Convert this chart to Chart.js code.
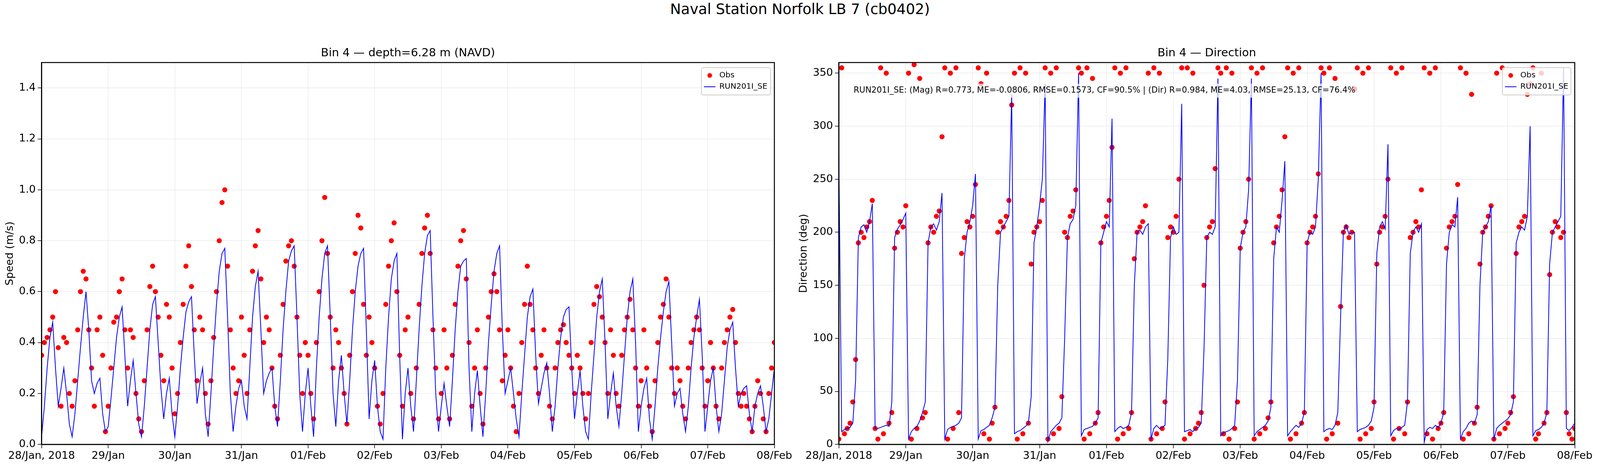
<!DOCTYPE html>
<html><head><meta charset="utf-8">
<script src="https://cdn.jsdelivr.net/npm/chart.js@4.4.0/dist/chart.umd.min.js"></script>
<style>
body{margin:0;background:#fff;height:1200px;position:relative;overflow:hidden;font-family:"DejaVu Sans",sans-serif}
canvas{position:absolute;top:0}
#t{position:absolute;top:2px;left:0;width:100%;text-align:center;font-size:37px;color:#000}
</style></head><body>
<div id="t">Naval Station Norfolk LB 7 (cb0402)</div>
<canvas id="c1"></canvas>
<canvas id="c2"></canvas>
<script>
// hours since 28 Jan 2018 00:00
const dayLabels = ["28/Jan, 2018","29/Jan","30/Jan","31/Jan","01/Feb","02/Feb","03/Feb","04/Feb","05/Feb","06/Feb","07/Feb","08/Feb"];
const speedTicks = [0,0.2,0.4,0.6,0.8,1.0,1.2,1.4];
const dirTicks = [0,50,100,150,200,250,300,350];
const speedModel = [
0.03,0.15,0.3,0.42,0.48,0.3,0.15,0.22,0.3,0.2,0.08,0.03,
0.12,0.25,0.38,0.5,0.6,0.45,0.25,0.2,0.24,0.26,0.12,0.05,
0.07,0.18,0.3,0.42,0.5,0.54,0.35,0.15,0.25,0.33,0.2,0.08,
0.03,0.15,0.3,0.45,0.55,0.58,0.4,0.22,0.1,0.2,0.26,0.12,
0.03,0.15,0.3,0.42,0.52,0.56,0.58,0.35,0.16,0.24,0.3,0.12,
0.03,0.2,0.38,0.55,0.68,0.75,0.77,0.5,0.2,0.05,0.15,0.22,
0.25,0.15,0.1,0.3,0.5,0.62,0.68,0.45,0.2,0.25,0.28,0.3,
0.15,0.07,0.25,0.45,0.6,0.72,0.76,0.78,0.5,0.2,0.05,0.2,
0.3,0.15,0.03,0.3,0.5,0.65,0.75,0.78,0.5,0.2,0.07,0.25,
0.35,0.2,0.08,0.25,0.45,0.6,0.7,0.75,0.77,0.45,0.1,0.25,
0.33,0.15,0.05,0.02,0.3,0.5,0.65,0.72,0.75,0.35,0.02,0.2,
0.3,0.15,0.05,0.25,0.45,0.62,0.75,0.82,0.84,0.5,0.2,0.05,
0.15,0.24,0.15,0.07,0.25,0.45,0.6,0.7,0.72,0.73,0.3,0.05,
0.2,0.29,0.15,0.03,0.2,0.4,0.55,0.68,0.75,0.78,0.45,0.2,
0.25,0.3,0.2,0.1,0.03,0.2,0.35,0.5,0.58,0.61,0.35,0.16,
0.22,0.28,0.32,0.2,0.05,0.15,0.3,0.42,0.5,0.53,0.54,0.3,
0.1,0.2,0.29,0.15,0.05,0.02,0.2,0.35,0.5,0.6,0.65,0.4,
0.1,0.2,0.28,0.15,0.07,0.2,0.35,0.5,0.6,0.65,0.4,0.05,
0.15,0.22,0.26,0.1,0.02,0.15,0.3,0.42,0.52,0.6,0.64,0.4,
0.15,0.2,0.22,0.12,0.05,0.15,0.3,0.42,0.5,0.57,0.35,0.05,
0.15,0.25,0.3,0.15,0.05,0.12,0.25,0.38,0.45,0.48,0.3,0.15,
0.2,0.22,0.23,0.12,0.05,0.15,0.2,0.23,0.15,0.05,0.1,0.2,0.3];
const speedObs = [
0.35,0.4,0.42,0.45,0.5,0.6,0.38,0.15,0.42,0.4,0.2,0.15,
0.25,0.45,0.6,0.68,0.65,0.45,0.3,0.15,0.45,0.5,0.35,0.05,
0.15,0.3,0.48,0.5,0.6,0.65,0.45,0.3,0.45,0.42,0.2,0.1,
0.05,0.25,0.45,0.62,0.7,0.6,0.5,0.35,0.25,0.55,0.5,0.3,
0.12,0.2,0.4,0.55,0.7,0.78,0.62,0.45,0.25,0.5,0.45,0.2,
0.08,0.25,0.42,0.6,0.8,0.95,1.0,0.7,0.45,0.3,0.2,0.25,
0.5,0.35,0.2,0.45,0.68,0.78,0.84,0.65,0.4,0.5,0.45,0.3,
0.15,0.1,0.35,0.55,0.72,0.78,0.8,0.7,0.5,0.35,0.2,0.4,
0.35,0.2,0.1,0.4,0.6,0.8,0.97,0.75,0.5,0.3,0.45,0.4,
0.3,0.2,0.08,0.35,0.6,0.75,0.9,0.85,0.55,0.35,0.5,0.4,
0.3,0.15,0.08,0.2,0.55,0.7,0.8,0.87,0.6,0.35,0.15,0.45,
0.5,0.2,0.1,0.3,0.55,0.75,0.85,0.9,0.75,0.45,0.3,0.1,
0.2,0.45,0.3,0.1,0.35,0.55,0.7,0.8,0.84,0.65,0.4,0.15,
0.3,0.45,0.2,0.08,0.3,0.5,0.6,0.67,0.6,0.45,0.25,0.35,
0.45,0.3,0.15,0.05,0.2,0.4,0.55,0.7,0.55,0.45,0.3,0.2,
0.35,0.45,0.3,0.15,0.1,0.3,0.4,0.45,0.47,0.4,0.35,0.3,
0.2,0.35,0.3,0.2,0.1,0.2,0.4,0.55,0.62,0.58,0.5,0.4,
0.2,0.45,0.35,0.2,0.15,0.35,0.45,0.5,0.57,0.45,0.3,0.15,
0.25,0.45,0.3,0.15,0.05,0.25,0.4,0.5,0.55,0.65,0.5,0.3,
0.2,0.3,0.25,0.15,0.1,0.3,0.4,0.45,0.5,0.45,0.3,0.15,
0.25,0.4,0.3,0.15,0.1,0.3,0.4,0.45,0.5,0.53,0.4,0.2,
0.15,0.2,0.15,0.1,0.05,0.15,0.25,0.2,0.1,0.05,0.2,0.3,0.4];
const dirModel = [
270,12,14,15,16,20,60,195,205,207,200,210,227,
15,15,16,17,18,17,40,195,203,207,212,218,
5,12,15,17,22,30,40,190,205,208,202,210,237,
5,14,16,17,18,20,25,175,200,210,225,255,
5,13,14,16,18,25,35,150,200,205,210,215,330,
10,12,13,15,17,20,45,190,205,225,250,340,
3,12,15,18,20,25,100,195,208,212,225,350,
8,14,15,16,17,20,25,190,200,210,205,307,
12,15,17,15,16,18,30,150,200,202,198,205,208,
5,15,18,15,16,18,80,195,205,198,200,321,
12,13,14,12,15,16,20,90,195,200,198,205,345,
8,11,12,13,15,18,60,185,200,205,240,345,
8,12,14,16,18,22,35,175,205,200,230,267,
8,12,15,18,16,20,30,190,200,198,205,250,350,
12,14,15,14,18,30,120,200,207,198,200,200,
12,14,15,16,18,22,35,180,205,210,203,283,
8,13,15,14,16,18,40,180,200,205,200,208,
2,14,16,15,18,16,20,30,170,200,207,205,233,
5,12,15,20,22,20,28,150,200,205,210,225,
5,15,18,20,22,24,28,40,190,200,205,202,215,300,
8,13,14,16,20,30,170,200,205,210,215,355,
15,13,16,20];
const dirObs = [
5,355,10,15,20,40,80,190,200,195,205,210,230,
15,5,355,10,350,20,30,185,200,210,205,225,
350,5,358,15,345,25,30,190,205,200,215,220,290,
355,5,350,15,355,30,180,195,210,205,215,245,
355,340,10,350,5,20,35,200,210,205,215,230,320,
350,5,355,10,350,20,170,200,205,210,230,355,
5,350,10,355,15,45,200,195,215,220,240,355,
350,5,355,10,345,20,30,190,205,215,230,280,
355,5,350,10,355,15,30,175,200,205,210,225,350,
5,355,10,350,15,40,195,205,200,215,250,355,
5,355,10,350,15,20,30,150,195,205,210,260,355,
350,10,355,5,350,15,40,185,200,210,250,355,
5,350,10,355,15,25,40,190,205,215,240,290,
355,5,350,10,355,20,30,190,200,205,215,255,355,
350,5,355,10,345,20,130,200,205,195,200,335,
355,5,350,10,355,15,40,170,200,205,215,250,
355,5,350,15,355,10,40,195,200,210,205,240,
355,10,350,5,355,15,20,30,185,205,210,215,245,
355,5,350,10,330,20,35,170,200,205,215,225,
5,350,10,355,15,20,30,45,180,205,210,215,330,340,
355,5,10,350,20,30,160,200,210,205,195,200,30,10,5,15];
const statsText = "RUN201I_SE: (Mag) R=0.773, ME=-0.0806, RMSE=0.1573, CF=90.5% | (Dir) R=0.984, ME=4.03, RMSE=25.13, CF=76.4%";

const W = window.innerWidth || 5000;
const k = W/5000;
const pts = a => a.map((v,i)=>({x:i,y:v}));
const FONT = "'DejaVu Sans', sans-serif";

function deco(title, legendW, annot){
  return {id:'deco', afterDraw(c){
    const ctx=c.ctx, a=c.chartArea;
    ctx.save();
    ctx.strokeStyle='#000'; ctx.lineWidth=2.5;
    ctx.strokeRect(a.left,a.top,a.right-a.left,a.bottom-a.top);
    ctx.fillStyle='#000'; ctx.font='29px '+FONT; ctx.textAlign='center'; ctx.textBaseline='alphabetic';
    ctx.fillText(title,(a.left+a.right)/2,a.top-16);
    if(annot){
      ctx.font='21px '+FONT; ctx.textAlign='left'; ctx.textBaseline='middle';
      const w=ctx.measureText(annot).width;
      ctx.fillStyle='rgba(255,255,255,0.7)'; ctx.fillRect(a.left+40*k,a.top+54,w+12,36);
      ctx.fillStyle='#000'; ctx.fillText(annot,a.left+46*k,a.top+72);
    }
    const lw=legendW*k, lx=a.right-lw-12*k, ly=a.top+13, lh=70;
    ctx.fillStyle='rgba(255,255,255,0.8)'; ctx.strokeStyle='#ccc'; ctx.lineWidth=2;
    ctx.beginPath(); ctx.roundRect(lx,ly,lw,lh,5); ctx.fill(); ctx.stroke();
    ctx.fillStyle='red'; ctx.beginPath(); ctx.arc(lx+26*k,ly+20,6,0,Math.PI*2); ctx.fill();
    ctx.strokeStyle='blue'; ctx.lineWidth=2; ctx.beginPath(); ctx.moveTo(lx+8*k,ly+49); ctx.lineTo(lx+44*k,ly+49); ctx.stroke();
    ctx.fillStyle='#000'; ctx.font='20px '+FONT; ctx.textAlign='left'; ctx.textBaseline='middle';
    ctx.fillText('Obs',lx+56*k,ly+20); ctx.fillText('RUN201I_SE',lx+56*k,ly+49);
    ctx.restore();
  }};
}

function make(id, left, width, obs, model, ymax, yticks, yfmt, ytitle, plotL, plotR, title, legendW, annot){
  const cv=document.getElementById(id);
  cv.width=Math.round(width*k); cv.height=1200; cv.style.left=Math.round(left*k)+'px';
  const padL=12*k;
  new Chart(cv,{
    type:'scatter',
    data:{datasets:[
      {label:'Obs',data:pts(obs),showLine:false,pointRadius:6.5,pointBackgroundColor:'red',pointBorderWidth:0,order:2},
      {label:'RUN201I_SE',data:pts(model),showLine:true,borderColor:'blue',borderWidth:2,pointRadius:0,tension:0,order:1}
    ]},
    options:{responsive:false,animation:false,devicePixelRatio:1,
      layout:{padding:{top:160,bottom:0,left:padL,right:(width-plotR)*k}},
      plugins:{legend:{display:false},tooltip:{enabled:false}},
      scales:{
        x:{type:'linear',min:0,max:264,
          afterFit(s){s.height=63;},
          afterBuildTicks(s){s.ticks=dayLabels.map((_,i)=>({value:i*24}));},
          ticks:{autoSkip:false,maxRotation:0,color:'#000',font:{size:27,family:FONT},padding:4,
            callback:v=>dayLabels[Math.round(v/24)]},
          grid:{color:'rgba(0,0,0,0.08)',lineWidth:1.5,tickColor:'#000',tickLength:10},
          border:{color:'#000',width:2.5}},
        y:{min:0,max:ymax,
          afterFit(s){s.width=plotL*k-padL;},
          afterBuildTicks(s){s.ticks=yticks.map(v=>({value:v}));},
          ticks:{autoSkip:false,color:'#000',font:{size:27,family:FONT},callback:yfmt,padding:5},
          title:{display:true,text:ytitle,color:'#000',font:{size:27,family:FONT},padding:0},
          grid:{color:'rgba(0,0,0,0.08)',lineWidth:1.5,tickColor:'#000',tickLength:10},
          border:{color:'#000',width:2.5}}
      }},
    plugins:[deco(title,legendW,annot)]
  });
}
make('c1',0,2480,speedObs,speedModel,1.5,speedTicks,v=>v.toFixed(1),'Speed (m/s)',130,2433,'Bin 4 — depth=6.28 m (NAVD)',216,null);
make('c2',2480,2520,dirObs,dirModel,360,dirTicks,v=>String(v),'Direction (deg)',141,2441,'Bin 4 — Direction',214,statsText);
</script></body></html>
